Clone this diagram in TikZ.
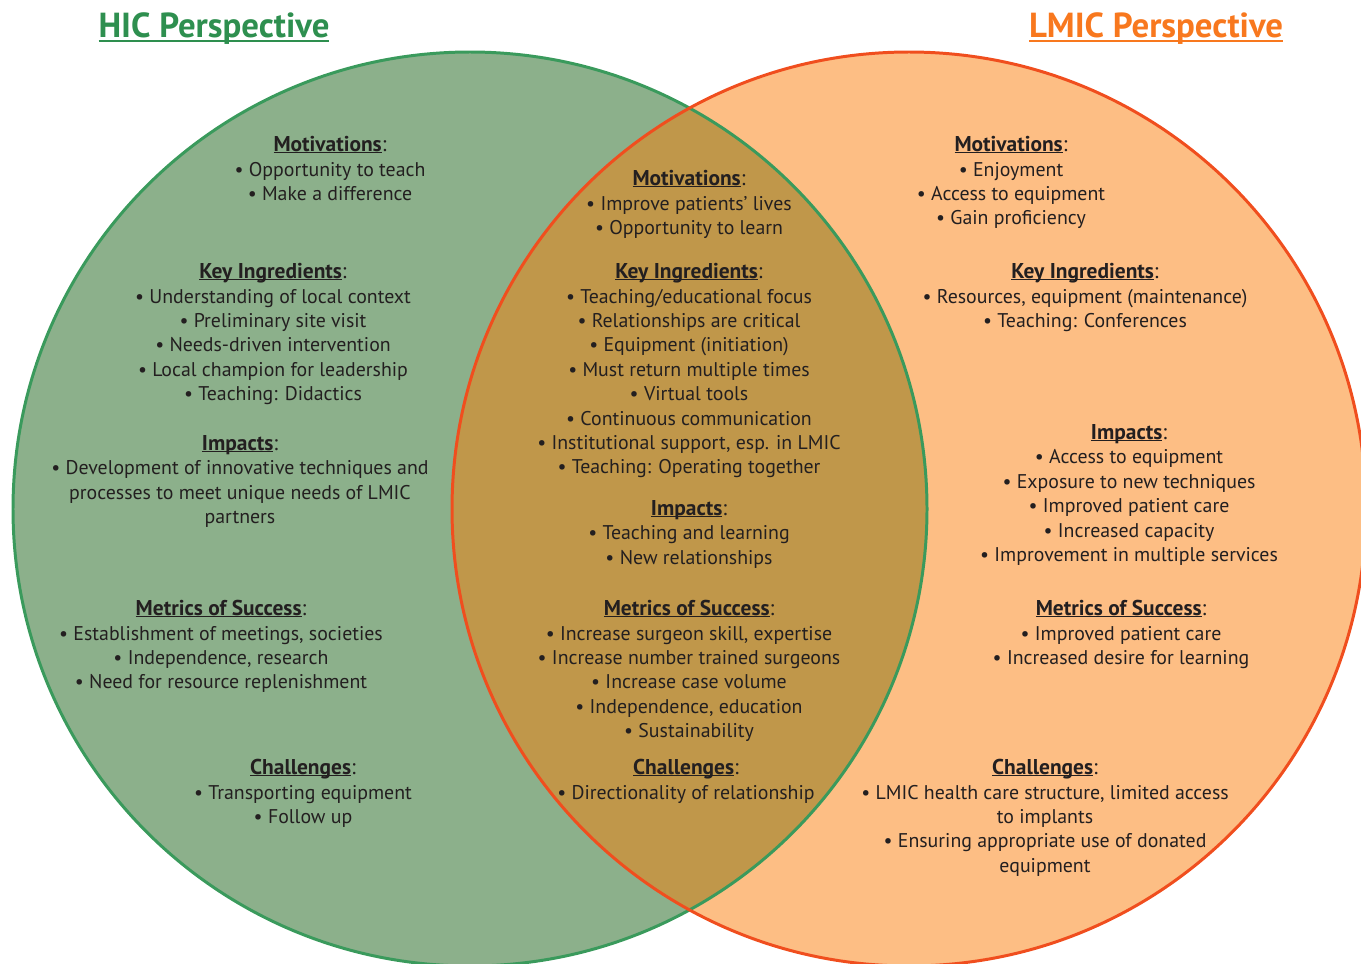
\documentclass[tikz,border=0pt]{standalone}
\usepackage{fontspec}
\setmainfont{PT Sans}
\definecolor{HicFill}{HTML}{8CB08B}
\definecolor{LmicFill}{HTML}{FDBE84}
\definecolor{BothFill}{HTML}{C0974A}
\definecolor{HicLine}{HTML}{3A9A5C}
\definecolor{LmicLine}{HTML}{F04E1E}
\definecolor{HicTitle}{HTML}{2E8F4F}
\definecolor{LmicTitle}{HTML}{F8781E}
\definecolor{InkBlack}{HTML}{231F20}
\usetikzlibrary{positioning}

% underlined text: depth, thickness, text
\newcommand{\uln}[3]{\setbox0=\hbox{#3}\rlap{\rule[-#1]{\wd0}{#2}}\box0}
\newcommand{\hd}[1]{{\fontsize{12.2}{13.9}\selectfont\uln{1pt}{0.65pt}{\textbf{#1}}:}}
\newcommand{\bu}{\textbullet\ }

\begin{document}
\begin{tikzpicture}[x=0.02cm, y=-0.02cm,
    font=\fontsize{11.3}{13.9}\selectfont,
    every node/.style={inner sep=0pt, text=InkBlack},
    block/.style={align=center, anchor=north},
    title/.style={font=\fontsize{19.8}{22}\selectfont\bfseries, anchor=base},
    venn/.style={line width=1.7pt}]

    \path [use as bounding box] (0,0) rectangle (1361,963);
    \clip (0,0) rectangle (1361,963);

    \coordinate (hic) at (470,509);
    \coordinate (lmic) at (909,509);

    \fill[HicFill] (hic) circle[radius=457];
    \fill[LmicFill] (lmic) circle[radius=457];
    \begin{scope}
      \clip (hic) circle[radius=457];
      \fill[BothFill] (lmic) circle[radius=457];
    \end{scope}
    \draw[venn, HicLine] (hic) circle[radius=457];
    \draw[venn, LmicLine] (lmic) circle[radius=457];

    \node[name=hictitle,
      title,
      text=HicTitle] at (214,38) {\uln{2.2pt}{1.1pt}{HIC Perspective}};

    \node[name=lmictitle,
      title,
      text=LmicTitle] at (1156,38) {\uln{2.2pt}{1.1pt}{LMIC Perspective}};

    % HIC side
    \node[name=hicmot, block] at (330,136) {\hd{Motivations}\\
      \bu Opportunity to teach\\
      \bu Make a difference};

    \node[name=hickey, block] at (273,263) {\hd{Key Ingredients}\\
      \bu Understanding of local context\\
      \bu Preliminary site visit\\
      \bu Needs-driven intervention\\
      \bu Local champion for leadership\\
      \bu Teaching: Didactics};

    \node[name=hicimp, block] at (240,435) {\hd{Impacts}\\
      \bu Development of innovative techniques and\\
      processes to meet unique needs of LMIC\\
      partners};

    \node[name=hicmet, block] at (221,600) {\hd{Metrics of Success}\\
      \bu Establishment of meetings, societies\\
      \bu Independence, research\\
      \bu Need for resource replenishment};

    \node[name=hicchal, block] at (303,759) {\hd{Challenges}\\
      \bu Transporting equipment\\
      \bu Follow up};

    % shared
    \node[name=bothmot, block] at (689,170) {\hd{Motivations}\\
      \bu Improve patients’ lives\\
      \bu Opportunity to learn};

    \node[name=bothkey, block] at (689,263) {\hd{Key Ingredients}\\
      \bu Teaching/educational focus\\
      \bu Relationships are critical\\
      \bu Equipment (initiation)\\
      \bu Must return multiple times\\
      \bu Virtual tools\\
      \bu Continuous communication\\
      \bu Institutional support, esp. in LMIC\\
      \bu Teaching: Operating together};

    \node[name=bothimp, block] at (689,500) {\hd{Impacts}\\
      \bu Teaching and learning\\
      \bu New relationships};

    \node[name=bothmet, block] at (689,600) {\hd{Metrics of Success}\\
      \bu Increase surgeon skill, expertise\\
      \bu Increase number trained surgeons\\
      \bu Increase case volume\\
      \bu Independence, education\\
      \bu Sustainability};

    \node[name=bothchal, block] at (686,759) {\hd{Challenges}\\
      \bu Directionality of relationship};

    % LMIC side
    \node[name=lmicmot, block] at (1011,136) {\hd{Motivations}\\
      \bu Enjoyment\\
      \bu Access to equipment\\
      \bu Gain proficiency};

    \node[name=lmickey, block] at (1085,263) {\hd{Key Ingredients}\\
      \bu Resources, equipment (maintenance)\\
      \bu Teaching: Conferences};

    \node[name=lmicimp, block] at (1129,424) {\hd{Impacts}\\
      \bu Access to equipment\\
      \bu Exposure to new techniques\\
      \bu Improved patient care\\
      \bu Increased capacity\\
      \bu Improvement in multiple services};

    \node[name=lmicmet, block] at (1121,600) {\hd{Metrics of Success}\\
      \bu Improved patient care\\
      \bu Increased desire for learning};

    \node[name=lmicchal, block] at (1045,759) {\hd{Challenges}\\
      \bu LMIC health care structure, limited access\\
      to implants\\
      \bu Ensuring appropriate use of donated\\
      equipment};
  \end{tikzpicture}
\end{document}
